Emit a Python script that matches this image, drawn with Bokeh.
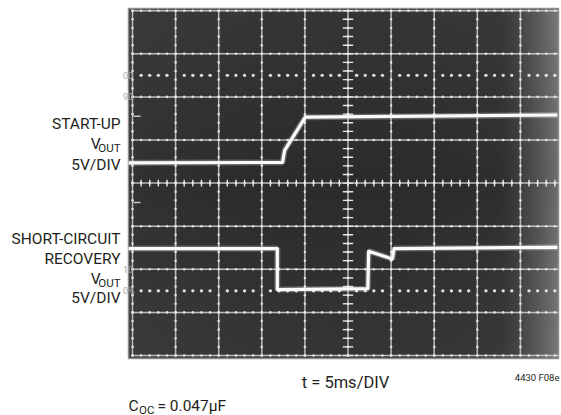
import numpy as np
from bokeh.plotting import figure
from bokeh.models import Range1d, Label
from bokeh.embed import file_html
from bokeh.resources import INLINE

# ---- data (scope divisions: x 0..10, y 0..8) ----
startup_t = [-0.09, 3.48, 3.53, 4.01, 9.86]
startup_v = [4.47, 4.48, 4.76, 5.53, 5.58]
recovery_t = [-0.09, 3.36, 3.36, 5.46, 5.48, 6.03, 6.07, 9.86]
recovery_v = [2.48, 2.48, 1.53, 1.55, 2.42, 2.24, 2.48, 2.51]
ref_labels = ["00", "90", "10", "0%"]
ref_levels = [6.5, 6.0, 2.0, 1.5]
n_xdiv = 10
n_ydiv = 8
dotted_levels = [6.5, 1.5]
marker_levels = [5.55, 3.55]

# ---- geometry: page pixel -> division coordinates ----
PX = 43.1            # pixels per division
GX, GY = 132, 355    # page position of graticule origin
W, H = 561, 415


def fx(px_):
    return (px_ - GX) / PX


def fy(py_):
    return (GY - py_) / PX


p = figure(width=W, height=H, x_range=Range1d(fx(0), fx(W)), y_range=Range1d(fy(H), fy(0)),
           output_backend="svg", toolbar_location=None,
           x_axis_location=None, y_axis_location=None,
           min_border_left=0, min_border_right=0, min_border_top=0, min_border_bottom=0)
p.grid.visible = False
p.background_fill_color = "white"
p.border_fill_color = "white"
p.outline_line_color = None

# screen area
sx0, sx1, sy0, sy1 = fx(128), fx(558), fy(358), fy(8)
ny, nx = 70, 140
img = np.zeros((ny, nx), dtype=np.uint32)
view = img.view(dtype=np.uint8).reshape((ny, nx, 4))
u = np.linspace(0, 1, nx)[None, :]
v = np.linspace(0, 1, ny)[:, None]
b = 49 + 60 * np.clip((u - 0.86) / 0.14, 0, 1) ** 1.5 \
    + 10 * np.abs(v - 0.5) * 2 - 6 * np.sin(np.pi * u)
b = np.clip(b, 0, 255).astype(np.uint8)
view[:, :, 0] = b
view[:, :, 1] = b
view[:, :, 2] = b
view[:, :, 3] = 255
p.image_rgba(image=[img], x=sx0, y=sy0, dw=sx1 - sx0, dh=sy1 - sy0)
p.quad(left=sx0, right=sx1, bottom=sy0, top=sy1, fill_color=None,
       line_color="#8c8c8c", line_width=1.5)

gcol = "#d2d2d2"
xs = np.arange(0, n_xdiv + 1)
xs = xs[xs <= sx1]
ys = np.arange(0, n_ydiv + 1)
p.segment(x0=xs, y0=[0] * len(xs), x1=xs, y1=[n_ydiv] * len(xs),
          line_color=gcol, line_width=1.5, line_alpha=0.85)
p.segment(x0=[0] * len(ys), y0=ys, x1=[sx1] * len(ys), y1=ys,
          line_color=gcol, line_width=1.5, line_alpha=0.85)

# beads along graticule lines
sub = np.round(np.arange(0, n_xdiv + 0.001, 0.2), 3)
sub = sub[sub <= sx1]
sub_y = np.round(np.arange(0, n_ydiv + 0.001, 0.2), 3)
bx, by = [], []
for yy in ys:
    bx += list(sub); by += [yy] * len(sub)
for xx in xs:
    bx += [xx] * len(sub_y); by += list(sub_y)
p.scatter(bx, by, size=2.6, color="#e8e8e8", line_color=None, alpha=0.9)

# center-line minor ticks
p.segment(x0=sub, y0=[4 - 0.08] * len(sub), x1=sub, y1=[4 + 0.08] * len(sub),
          line_color="#e8e8e8", line_width=1.4)
p.segment(x0=[5 - 0.12] * len(sub_y), y0=sub_y, x1=[5 + 0.12] * len(sub_y), y1=sub_y,
          line_color="#e8e8e8", line_width=1.4)

# dotted reference lines
dots = [s for s in sub if abs(s - round(s)) > 1e-6]
dx, dy = [], []
for lv in dotted_levels:
    dx += dots; dy += [lv] * len(dots)
p.scatter(dx, dy, size=3.4, color="#e0e0e0", line_color=None)

# channel markers
p.segment(x0=[fx(133)] * 2, y0=marker_levels, x1=[fx(140)] * 2, y1=marker_levels,
          line_color="#c8c8c8", line_width=1.5)

# traces
for t, vv in ((startup_t, startup_v), (recovery_t, recovery_v)):
    p.line(t, vv, line_color="white", line_width=6, line_alpha=0.25)
    p.line(t, vv, line_color="#fbfbfb", line_width=3.2, line_join="round")

FONT = "Roboto"
TXT = "#231f20"

# small scope readouts at the left edge
for txt, lv in zip(ref_labels, ref_levels):
    p.add_layout(Label(x=fx(122.5), y=lv, text=txt, text_font_size="9px",
                       text_color="#a8a8a8", text_baseline="middle",
                       text_font=FONT))


def lab(text, px_, py_, size="15.5px", align="right"):
    p.add_layout(Label(x=fx(px_), y=fy(py_), text=text, text_font=FONT,
                       text_font_size=size, text_color=TXT, text_align=align,
                       text_baseline="alphabetic"))


lab("START-UP", 120, 123)
lab("V", 100, 143)
lab("OUT", 120, 147, size="11.5px")
lab("5V/DIV", 120, 164)

lab("SHORT-CIRCUIT", 120, 238)
lab("RECOVERY", 120, 258)
lab("V", 100, 278)
lab("OUT", 120, 282, size="11.5px")
lab("5V/DIV", 120, 297)

lab("t = 5ms/DIV", 345, 382, size="16.5px", align="center")
lab("4430 F08e", 559, 377, size="9.5px")
lab("C", 128, 405, align="left")
lab("OC", 138.5, 409, size="11.5px", align="left")
lab("= 0.047µF", 157, 405, size="15.5px", align="left")

open("out.html", "w").write(file_html(p, INLINE))
